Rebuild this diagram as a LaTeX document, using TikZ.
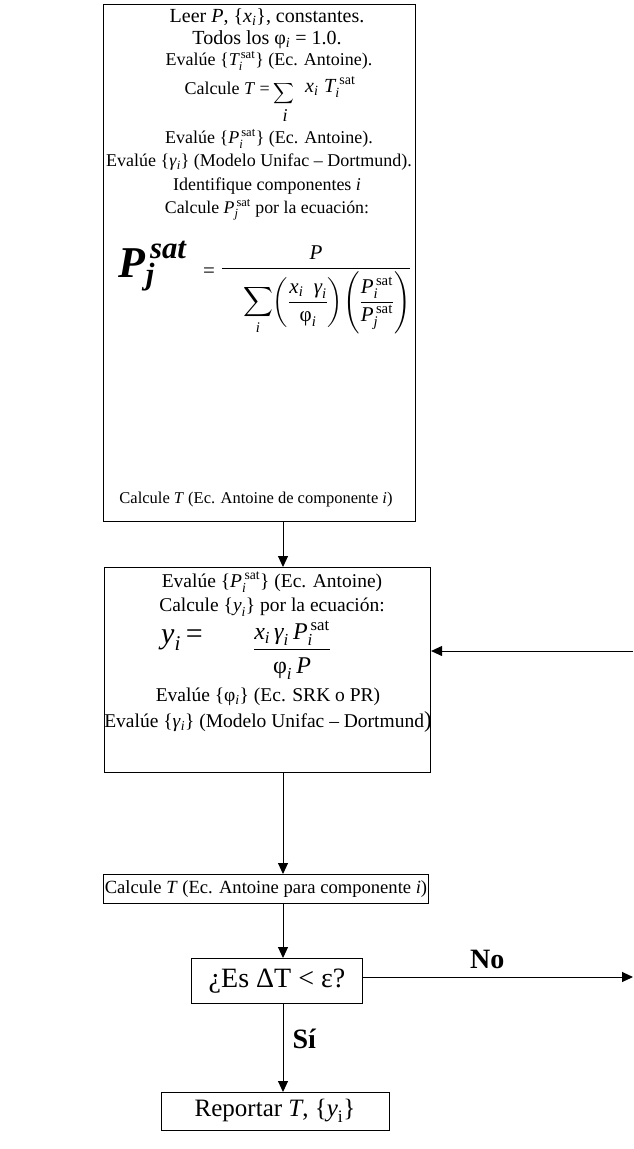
\documentclass[tikz,border=0pt]{standalone}
\usepackage{fontspec}
\setmainfont{Liberation Serif}
\usepackage{amsmath}
\usetikzlibrary{arrows.meta}
\newcommand\ti[1]{\textit{#1}}
\newcommand\bi[1]{\textbf{\textit{#1}}}
\begin{document}
\begin{tikzpicture}[x=1pt,y=-1pt,
  box/.style={draw, line width=1.1pt, inner sep=0pt, anchor=north west},
  ta/.style={inner sep=0pt, font=\fontsize{18}{22}\selectfont},
  tl/.style={inner sep=0pt, font=\fontsize{20}{24}\selectfont},
  tb/.style={inner sep=0pt, font=\fontsize{16.5}{20}\selectfont},
  tm/.style={inner sep=0pt, font=\fontsize{19.5}{23}\selectfont},
  tc/.style={inner sep=0pt, font=\fontsize{18.6}{23}\selectfont},
  lab/.style={inner sep=0pt, font=\fontsize{28}{32}\selectfont\bfseries},
  arr/.style={-{Triangle[length=11pt,width=10pt]}, line width=1pt}]
\useasboundingbox (0,0) rectangle (633,1149);
% boxes
\node[box, minimum width=312pt, minimum height=517pt] (b1) at (103,4) {};
\node[box, minimum width=326pt, minimum height=205pt] (b2) at (104,567) {};
\node[box, minimum width=325pt, minimum height=29pt] (b3) at (103,874) {};
\node[box, minimum width=171pt, minimum height=45pt] (d) at (191,958) {};
\node[box, minimum width=228pt, minimum height=38pt] (r) at (161,1092) {};
% box 1 text
\node[tl] (l1) at (267,17) {Leer \ti{P}, \{$\ti{x}_{\ti{i}}$\}, constantes.};
\node[tl] (l2) at (267,40) {Todos los φ$_{\ti{i}}$ = 1.0.};
\node[ta] (l3) at (269,61) {Evalúe \{$\ti{T}_{\ti{i}}^{\,\textrm{sat}}$\} (Ec. Antoine).};
\node[ta, anchor=east] (l4a) at (270,88) {Calcule \ti{T} = };
\node[inner sep=0pt, font=\fontsize{14}{17}\selectfont] (l4s) at (284,94) {$\displaystyle\sum$};
\node[tl, anchor=west] (l4b) at (305,87) {$\ti{x}_{\ti{i}}\;\ti{T}_{\ti{i}}^{\;\textrm{sat}}$};
\node[ta] (l4i) at (285,116) {\ti{i}};
\node[ta] (l5) at (269,139) {Evalúe \{$\ti{P}_{\ti{i}}^{\,\textrm{sat}}$\} (Ec. Antoine).};
\node[ta] (l6) at (259,162) {Evalúe \{\ti{γ}$_{\ti{i}}$\} (Modelo Unifac -- Dortmund).};
\node[ta] (l7) at (267,186) {Identifique componentes \ti{i}};
\node[inner sep=0pt, font=\fontsize{17.8}{21}\selectfont] (l8) at (267,210) {Calcule $\ti{P}_{\ti{j}}^{\,\textrm{sat}}$ por la ecuación:};
\node[inner sep=0pt, font=\fontsize{44}{50}\selectfont] (lhs) at (153,266) {$\bi{P}_{\bi{j}}^{\,\bi{sat}}$};
\node[inner sep=0pt, font=\fontsize{21}{24}\selectfont] (eq) at (209,273) {=};
\node[inner sep=0pt, font=\fontsize{21}{24}\selectfont] (fr) at (316,290) {$\dfrac{\ti{P}}{\rule{0pt}{34pt}\hspace{18pt}\displaystyle\sum_{\ti{i}}\!\left(\dfrac{\ti{x}_{\ti{i}}\ \ \ti{γ}_{\ti{i}}}{\textrm{φ}_{\ti{i}}}\right)\!\left(\dfrac{\ti{P}_{\ti{i}}^{\,\textrm{sat}}}{\ti{P}_{\ti{j}}^{\,\textrm{sat}}}\right)}$};
\node[tb] (l9) at (256,500) {Calcule \ti{T} (Ec. Antoine de componente \ti{i})};
% box 2 text
\node[tm] (m1) at (272,582) {Evalúe \{$\ti{P}_{\ti{i}}^{\,\textrm{sat}}$\} (Ec. Antoine)};
\node[tm] (m2) at (272,607) {Calcule \{$\ti{y}_{\ti{i}}$\} por la ecuación:};
\node[inner sep=0pt, font=\fontsize{30}{34}\selectfont] (m3) at (182,640) {$\ti{y}_{\ti{i}}$\,=};
\node[inner sep=0pt, font=\fontsize{24}{28}\selectfont] (m4) at (292,650) {$\dfrac{\ti{x}_{\ti{i}}\,\ti{γ}_{\ti{i}}\,\ti{P}_{\ti{i}}^{\,\textrm{sat}}}{\textrm{φ}_{\ti{i}}\,\ti{P}}$};
\node[tm] (m5) at (268,697) {Evalúe \{φ$_{\ti{i}}$\} (Ec. SRK o PR)};
\node[tm] (m6) at (268,722) {Evalúe \{\ti{γ}$_{\ti{i}}$\} (Modelo Unifac -- Dortmund{\fontsize{23}{26}\selectfont)}};
% other boxes text
\node[tc] (n3) at (266,889) {Calcule \ti{T} (Ec. Antoine para componente \ti{i})};
\node[inner sep=0pt, font=\fontsize{28}{32}\selectfont] (n4) at (277,981) {¿Es ΔT < ε?};
\node[inner sep=0pt, font=\fontsize{25}{29}\selectfont] (n5) at (275,1111) {Reportar \ti{T}, \{$\ti{y}_{\textrm{i}}$\}};
% connectors
\coordinate (fb) at (633,651);
\coordinate (noend) at (633,977);
\draw[arr] (b1.south -| 283,0) -- (b2.north -| 283,0);
\draw[arr] (b2.south -| 283,0) -- (b3.north -| 283,0);
\draw[arr] (b3.south -| 283,0) -- (d.north -| 283,0);
\draw[arr] (d.south -| 283,0) -- node[lab, right=9pt, pos=0.4] {Sí} (r.north -| 283,0);
\draw[arr] (d.east |- noend) -- node[lab, above=8pt, pos=0.46] {No} (noend);
\draw[arr] (fb) -- (fb -| b2.east);
\end{tikzpicture}
\end{document}
